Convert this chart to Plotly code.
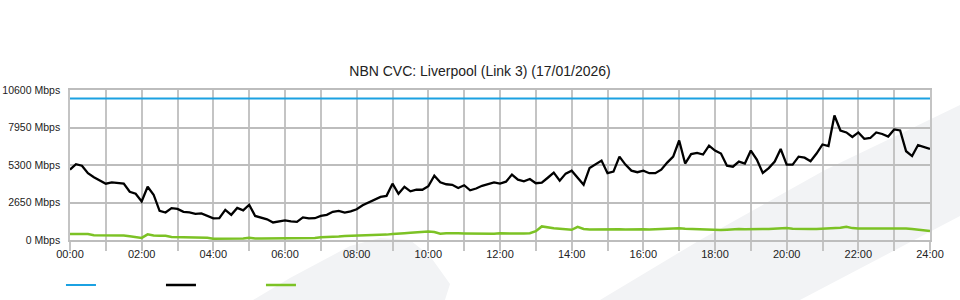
import numpy as np
import plotly.graph_objects as go

# ---- data (10-minute samples, Mbps) ----
title_text = "NBN CVC: Liverpool (Link 3) (17/01/2026)"
capacity_mbps = 10000

download_mbps = [
    4970, 5360, 5250, 4720, 4440, 4190, 3980, 4070, 4050, 3980, 3410, 3270,
    2730, 3760, 3200, 2060, 1940, 2250, 2200, 1990, 1950, 1850, 1880, 1700,
    1530, 1540, 2130, 1780, 2270, 2090, 2490, 1700, 1600, 1460, 1240, 1310,
    1380, 1310, 1280, 1600, 1530, 1540, 1700, 1780, 1990, 2060, 1940, 2020,
    2170, 2450, 2660, 2880, 3050, 3120, 3980, 3270, 3760, 3440, 3550, 3550,
    3800, 4540, 4080, 3940, 3900, 3670, 3870, 3510, 3640, 3830, 3940, 4070,
    3980, 4120, 4620, 4260, 4150, 4310, 4010, 4050, 4400, 4760, 4190, 4690,
    4900, 4400, 3910, 5090, 5360, 5610, 4720, 4830, 5890, 5330, 4900, 4790,
    4900, 4720, 4720, 4970, 5470, 5890, 7030, 5400, 6070, 6160, 6040, 6670,
    6320, 6110, 5250, 5180, 5540, 5400, 6320, 5680, 4740, 5080, 5540, 6430,
    5330, 5330, 5890, 5820, 5570, 6110, 6750, 6640, 8800, 7740, 7600, 7280,
    7600, 7150, 7210, 7600, 7490, 7310, 7810, 7740, 6270, 5930, 6710, 6570,
    6440,
]

upload_mbps = [
    430, 430, 430, 420, 340, 330, 330, 330, 340, 320, 260, 200,
    150, 400, 320, 300, 300, 220, 210, 210, 210, 200, 200, 160,
    90, 90, 90, 90, 100, 110, 160, 100, 100, 100, 110, 120,
    140, 120, 100, 150, 140, 140, 190, 200, 240, 250, 290, 300,
    300, 320, 310, 350, 360, 380, 420, 470, 480, 510, 530, 560,
    600, 560, 440, 480, 500, 470, 460, 450, 460, 460, 470, 450,
    470, 460, 450, 470, 460, 480, 620, 960, 880, 830, 800, 740,
    720, 930, 780, 750, 760, 750, 760, 770, 760, 750, 770, 760,
    760, 750, 770, 760, 770, 780, 830, 790, 770, 760, 770, 760,
    740, 700, 730, 760, 770, 760, 780, 790, 780, 770, 780, 790,
    850, 800, 780, 790, 770, 780, 790, 820, 800, 860, 940, 840,
    820, 830, 850, 820, 810, 820, 830, 840, 820, 780, 720, 690,
    630,
]

y_tick_vals = [0, 2650, 5300, 7950, 10600]
y_tick_text = ["0 Mbps", "2650 Mbps", "5300 Mbps", "7950 Mbps", "10600 Mbps"]
x_tick_hours = list(range(0, 25))
x_tick_text = [f"{h:02d}:00" if h % 2 == 0 else "" for h in x_tick_hours]

# time axis in hours (10-minute steps)
hours = np.arange(len(download_mbps)) / 6.0

fig = go.Figure()

fig.add_trace(go.Scatter(
    x=[0, 24], y=[capacity_mbps, capacity_mbps], mode="lines",
    line=dict(color="#1ba1e2", width=2.2), name=" ", hoverinfo="skip"))
fig.add_trace(go.Scatter(
    x=hours, y=download_mbps, mode="lines",
    line=dict(color="#000000", width=2.3), name=" "))
fig.add_trace(go.Scatter(
    x=hours, y=upload_mbps, mode="lines",
    line=dict(color="#7cc225", width=2.5), name=" "))

W, H = 960, 300
L, R, T, B = 70, 30, 90, 60
pw, ph = W - L - R, H - T - B

def px(xp, yp):
    return ((xp - L) / pw, (H - B - yp) / ph)

def path(points):
    pts = [px(a, b) for a, b in points]
    return "M " + " L ".join(f"{a:.4f},{b:.4f}" for a, b in pts) + " Z"

wm = "#f2f3f5"
band = [(600, 300), (700, 240), (825, 170), (900, 134), (960, 105),
        (960, 216), (800, 300)]
blob = [(253, 300), (290, 278), (320, 262), (350, 246), (380, 238),
        (410, 240), (430, 256), (450, 284), (445, 300)]

fig.update_layout(
    width=W, height=H,
    margin=dict(l=L, r=R, t=T, b=B, autoexpand=False),
    paper_bgcolor="white",
    plot_bgcolor="rgba(0,0,0,0)",
    font=dict(family="Arial, Liberation Sans, sans-serif", size=11, color="#222"),
    title=dict(text=title_text, x=0.5, xref="container", xanchor="center",
               y=1 - 71 / 300, yref="container", yanchor="middle",
               font=dict(size=14, color="#222")),
    showlegend=True,
    legend=dict(orientation="h", x=-0.0105, xanchor="left", y=-0.3, yanchor="middle",
                entrywidth=55, entrywidthmode="pixels", itemwidth=30,
                font=dict(size=11), bgcolor="rgba(0,0,0,0)"),
    shapes=[
        dict(type="path", path=path(band), xref="paper", yref="paper",
             fillcolor=wm, line=dict(width=0), layer="below"),
        dict(type="path", path=path(blob), xref="paper", yref="paper",
             fillcolor=wm, line=dict(width=0), layer="below"),
    ],
)

fig.update_xaxes(
    range=[0, 24], tickmode="array", tickvals=x_tick_hours, ticktext=x_tick_text,
    showgrid=True, gridcolor="#c4c4c4", gridwidth=1.5,
    ticks="outside", ticklen=9, tickcolor="#c4c4c4", tickwidth=1.5,
    showline=True, linecolor="#bdbdbd", linewidth=2, mirror=True,
    zeroline=False, automargin=False, ticklabelstandoff=-6,
    tickfont=dict(size=11, color="#222"),
)
fig.update_yaxes(
    range=[0, 10600], tickmode="array", tickvals=y_tick_vals, ticktext=y_tick_text,
    showgrid=True, gridcolor="#bdbdbd", gridwidth=2,
    ticks="", showline=True, linecolor="#c4c4c4", linewidth=1.5, mirror=True,
    zeroline=False, automargin=False, ticklabelstandoff=6,
    tickfont=dict(size=10.5, color="#222"),
)

fig.write_html("out.html")
